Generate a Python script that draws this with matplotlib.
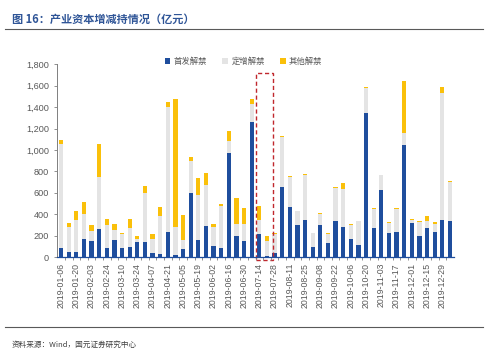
import pandas as pd
import matplotlib.pyplot as plt
from matplotlib.patches import Rectangle
from matplotlib.ticker import FuncFormatter

plt.rcParams['font.family'] = ['Liberation Sans', 'Noto Sans CJK SC', 'DejaVu Sans']

# weekly dates, spring festival week 2019-02-10 missing; last bar is 2020-01-05
dates = list(pd.date_range("2019-01-06", "2020-01-05", freq="7D").strftime("%Y-%m-%d"))
dates.remove("2019-02-10")

ipo = [85, 50, 50, 170, 150, 265, 85, 160, 85, 95, 145, 145, 40, 30, 240, 25,
       80, 595, 165, 295, 105, 90, 975, 200, 150, 1260, 220, 10, 45, 655, 465, 300,
       345, 100, 305, 135, 340, 285, 170, 115, 1340, 270, 625, 225, 235, 1045,
       320, 200, 275, 235, 345, 335]
placement = [975, 235, 295, 235, 95, 480, 220, 95, 130, 180, 25, 455, 130, 355, 1160, 255,
             80, 300, 415, 380, 180, 390, 110, 115, 165, 165, 130, 145, 175, 465, 280, 135,
             420, 125, 95, 80, 310, 355, 130, 220, 240, 185, 140, 95, 220, 115,
             25, 130, 65, 80, 1190, 365]
other = [35, 35, 90, 115, 60, 310, 55, 55, 10, 80, 25, 60, 45, 85, 50, 1195,
         230, 40, 155, 110, 25, 20, 90, 235, 145, 50, 130, 45, 10, 10, 12, 0,
         10, 0, 10, 10, 8, 55, 8, 8, 8, 6, 6, 6, 6, 485,
         8, 6, 45, 15, 50, 10]

blue = "#1F4E9D"
grey = "#E4E4E4"
yellow = "#FAC00A"
text_grey = "#595959"

fig = plt.figure(figsize=(5, 3.54), dpi=100)
ax = fig.add_axes([0.1145, 0.273, 0.793, 0.546])

x = list(range(len(ipo)))
bottom2 = [a + b for a, b in zip(ipo, placement)]
ax.bar(x, ipo, width=0.56, color=blue, label="首发解禁")
ax.bar(x, placement, width=0.56, bottom=ipo, color=grey, label="定增解禁")
ax.bar(x, other, width=0.56, bottom=bottom2, color=yellow, label="其他解禁")

ax.set_xlim(-0.5, len(x) - 0.5)
ax.set_ylim(0, 1800)
ax.set_yticks(range(0, 1801, 200))
ax.yaxis.set_major_formatter(FuncFormatter(lambda v, p: f"{int(v):,}"))
ax.set_xticks(x[::2])
ax.set_xticklabels(dates[::2], rotation=90, fontsize=6.3, color=text_grey)
ax.set_xticks([i + 0.5 for i in x[:-1]], minor=True)
ax.tick_params(axis="x", which="major", length=0, pad=4)
ax.tick_params(axis="x", which="minor", length=2.5, color="#7f7f7f", width=0.6)
ax.tick_params(axis="y", labelsize=6.6, labelcolor=text_grey, length=2.5, color="#7f7f7f", width=0.6)
for s in ["top", "right"]:
    ax.spines[s].set_visible(False)
ax.spines["left"].set_color("#7f7f7f")
ax.spines["bottom"].set_color(blue)
ax.spines["left"].set_linewidth(0.7)
ax.spines["bottom"].set_linewidth(0.9)

# highlight box around 07-14 / 07-21
ax.add_patch(Rectangle((25.6, -20), 2.2, 1740, fill=False, edgecolor="#C0272D",
                       linestyle=(0, (3, 2)), linewidth=1.0, clip_on=False))

leg = ax.legend(loc="lower center", bbox_to_anchor=(0.47, 0.975), ncol=3, frameon=False,
                fontsize=6, handlelength=0.7, handleheight=0.7, handletextpad=0.4,
                columnspacing=1.8, borderaxespad=0)
for t in leg.get_texts():
    t.set_color(text_grey)
    t.set_family(['Noto Sans CJK SC'])

fig.text(0.024, 0.944, "图 16：产业资本增减持情况（亿元）", fontsize=8, color="#2F5597",
         fontweight="bold", family=['Noto Sans CJK SC', 'DejaVu Sans'], va="center")
fig.add_artist(plt.Line2D([0.01, 0.966], [0.918, 0.918], color="#595959", linewidth=0.8))
fig.add_artist(plt.Line2D([0.01, 0.966], [0.076, 0.076], color="#595959", linewidth=0.8))
fig.text(0.024, 0.025, "资料来源：Wind，国元证券研究中心", fontsize=5.5, color="#404040",
         family=['Noto Sans CJK SC', 'DejaVu Sans'], va="center")

fig.savefig("out.png", dpi=100)
